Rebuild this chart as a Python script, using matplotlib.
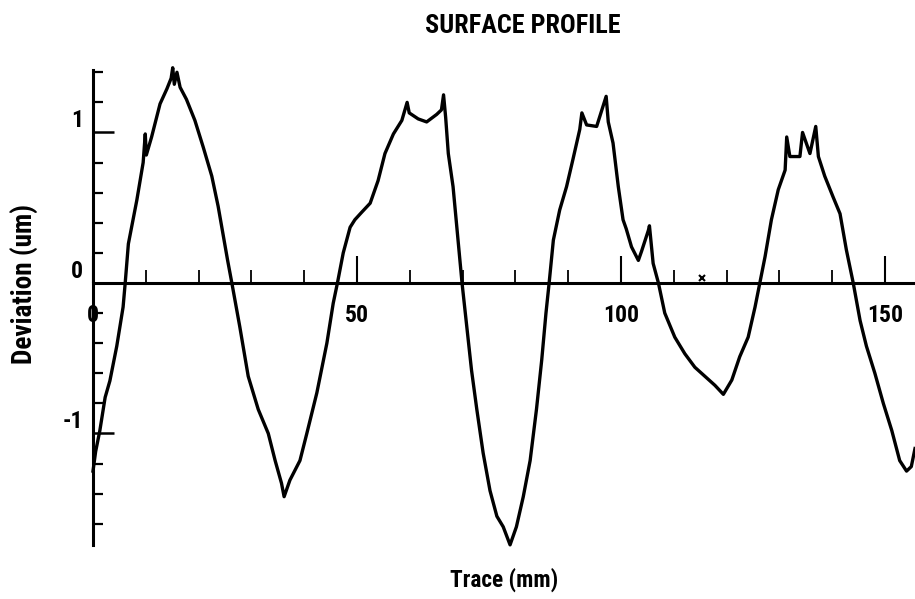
import matplotlib
matplotlib.use('Agg')
import matplotlib.pyplot as plt
import matplotlib.font_manager as fm
from matplotlib.ticker import MultipleLocator

# ---- data ----
trace_mm = [0.0, 0.5, 1.3, 2.3, 3.2, 4.5, 5.7, 6.1, 6.7, 8.3, 9.5, 9.9, 10.1, 11.1, 12.7,
            14.0, 14.8, 15.1, 15.4, 15.9, 16.5, 17.7, 19.3, 20.9, 22.5, 23.7, 24.7, 25.5,
            26.3, 27.8, 29.4, 31.3, 33.2, 34.5, 35.7, 36.2, 37.3, 39.2, 40.5, 42.4, 44.3,
            45.5, 46.3, 47.4, 48.7, 49.6, 50.9, 52.5, 54.0, 55.3, 56.9, 58.5, 59.5, 59.9,
            61.6, 63.2, 65.1, 66.0, 66.4, 66.8, 67.3, 68.2, 69.2, 69.9, 70.8, 71.7, 72.7,
            73.9, 75.2, 76.5, 77.7, 79.0, 80.2, 81.5, 82.8, 84.0, 85.0, 85.8, 86.4, 87.2,
            88.4, 89.7, 90.9, 92.2, 92.6, 93.5, 95.4, 97.2, 97.6, 98.5, 99.5, 100.4, 101.0,
            102.0, 103.3, 103.9, 105.2, 105.4, 106.1, 107.1, 108.3, 110.2, 112.1, 114.0,
            115.9, 117.8, 119.4, 121.0, 122.5, 124.1, 125.4, 126.3, 127.3, 128.5, 129.8,
            131.1, 131.4, 132.0, 133.9, 134.4, 135.8, 136.9, 137.4, 138.6, 140.2, 141.5,
            142.7, 144.0, 145.3, 146.5, 148.1, 149.7, 151.3, 152.8, 154.1, 155.0, 155.7]
deviation_um = [-1.25, -1.12, -0.98, -0.76, -0.65, -0.42, -0.16, 0.0, 0.26, 0.55, 0.80, 0.99, 0.85, 0.97, 1.19,
                1.29, 1.36, 1.43, 1.32, 1.40, 1.30, 1.22, 1.08, 0.90, 0.71, 0.51, 0.31, 0.15,
                0.0, -0.29, -0.62, -0.84, -1.00, -1.18, -1.33, -1.42, -1.31, -1.18, -1.00, -0.73, -0.40,
                -0.135, 0.0, 0.20, 0.37, 0.42, 0.47, 0.53, 0.68, 0.86, 0.99, 1.08, 1.20, 1.13,
                1.09, 1.07, 1.12, 1.15, 1.25, 1.10, 0.86, 0.64, 0.26, 0.0, -0.29, -0.58, -0.84,
                -1.13, -1.38, -1.55, -1.62, -1.74, -1.62, -1.42, -1.18, -0.84, -0.51, -0.20, 0.0, 0.285,
                0.485, 0.64, 0.82, 1.02, 1.13, 1.05, 1.04, 1.24, 1.07, 0.93, 0.64, 0.42, 0.36,
                0.24, 0.15, 0.21, 0.35, 0.38, 0.13, 0.0, -0.20, -0.36, -0.47, -0.56,
                -0.62, -0.68, -0.74, -0.645, -0.49, -0.36, -0.16, 0.0, 0.175, 0.42, 0.62,
                0.75, 0.97, 0.84, 0.84, 1.00, 0.86, 1.04, 0.84, 0.71, 0.57, 0.46,
                0.22, 0.0, -0.25, -0.42, -0.60, -0.80, -0.98, -1.18, -1.25, -1.22, -1.10]
marker_mm = [115.3]
marker_um = [0.03]

x_ticks = [0, 50, 100, 150]
x_tick_labels = ['0', '50', '100', '150']
y_ticks = [-1, 0, 1]
y_tick_labels = ['-1', '0', '1']
title_text = 'SURFACE PROFILE'
xlabel_text = 'Trace (mm)'
ylabel_text = 'Deviation (um)'


def pick_font(bold):
    prefs = ['Liberation Sans Narrow', 'DejaVu Sans Condensed', 'Roboto Condensed',
             'Noto Sans Condensed', 'Noto Sans ExtraCondensed', 'Open Sans Condensed']
    entries = fm.fontManager.ttflist

    def ok(e):
        isb = 'Bold' in e.fname and 'Semi' not in e.fname and 'Extra' not in e.fname
        return e.style == 'normal' and (isb == bold)
    for p in prefs:
        for e in entries:
            if e.name == p and ok(e):
                return fm.FontProperties(fname=e.fname)
    for e in entries:
        if e.stretch in ('condensed', 'extra-condensed', 'ultra-condensed', 'semi-condensed') and ok(e):
            return fm.FontProperties(fname=e.fname)
    return None


FP = pick_font(True) or pick_font(False) or fm.FontProperties(family='DejaVu Sans')

W, H = 915, 599
fig = plt.figure(figsize=(W / 100, H / 100), dpi=100)
ax = fig.add_axes([93 / W, 1 - 545 / H, (915 - 93) / W, (545 - 70) / H])
ax.set_xlim(0, 155.7)
ax.set_ylim(-1.741, 1.415)

ax.plot(trace_mm, deviation_um, color='black', lw=2.4, clip_on=False, zorder=3,
        solid_joinstyle='round')
ax.plot(marker_mm, marker_um, 'x', color='black', ms=5, mew=1.5, clip_on=False)

for s in ('top', 'right'):
    ax.spines[s].set_visible(False)
ax.spines['bottom'].set_position(('data', 0))
ax.spines['bottom'].set_linewidth(2.2)
ax.spines['left'].set_linewidth(2.2)

ax.set_xticks(x_ticks)
ax.set_xticklabels(x_tick_labels)
ax.set_yticks(y_ticks)
ax.set_yticklabels(y_tick_labels, va='bottom')
ax.xaxis.set_minor_locator(MultipleLocator(10))
ax.yaxis.set_minor_locator(MultipleLocator(0.2))
ax.tick_params(axis='x', which='major', direction='in', length=19.5, width=1.5, pad=15.5)
ax.tick_params(axis='x', which='minor', direction='in', length=9.4, width=1.3)
ax.tick_params(axis='y', which='major', direction='in', length=15, width=1.8, pad=7)
ax.tick_params(axis='y', which='minor', direction='in', length=7.5, width=1.6)

# tick label font sized so that "50" is ~24 px wide
fig.canvas.draw()
r = fig.canvas.get_renderer()
probe = fig.text(0, 0, '50', fontproperties=FP, fontsize=20)
tw = probe.get_window_extent(r).width
probe.remove()
tick_size = 20 * 24 / tw
for lab in ax.get_xticklabels() + ax.get_yticklabels():
    lab.set_fontproperties(FP)
    lab.set_fontsize(tick_size)

title = fig.text(523 / W, 1 - 26 / H, title_text, fontproperties=FP, fontsize=20,
                 ha='center', va='center')
xl = fig.text(504 / W, 1 - 580 / H, xlabel_text, fontproperties=FP, fontsize=20,
              ha='center', va='center')
yl = fig.text(25 / W, 1 - 284 / H, ylabel_text, fontproperties=FP, fontsize=20,
              ha='center', va='center', rotation=90)

fig.canvas.draw()
for t, target, horiz in ((title, 195, True), (xl, 108, True), (yl, 160, False)):
    bb = t.get_window_extent(r)
    cur = bb.width if horiz else bb.height
    t.set_fontsize(t.get_fontsize() * target / cur)

fig.savefig('out.png', dpi=100, facecolor='white')
